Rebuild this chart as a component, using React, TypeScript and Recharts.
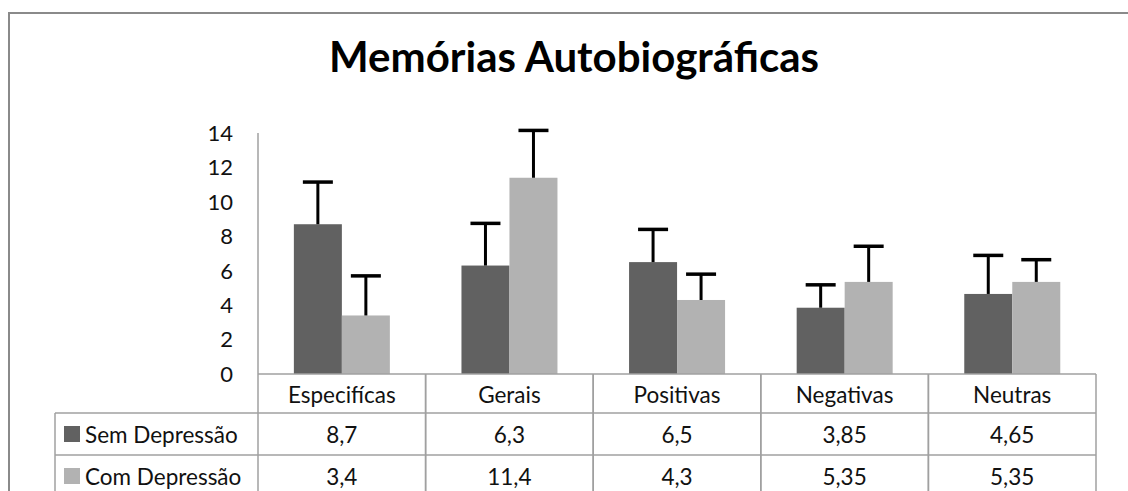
import React from 'react';
import { BarChart, Bar, XAxis, YAxis } from 'recharts';

const categories = ['Especifícas', 'Gerais', 'Positivas', 'Negativas', 'Neutras'];
const semDepressao = [8.7, 6.3, 6.5, 3.85, 4.65];
const comDepressao = [3.4, 11.4, 4.3, 5.35, 5.35];
const semDepressaoErr = [2.45, 2.45, 1.9, 1.33, 2.24];
const comDepressaoErr = [2.3, 2.75, 1.5, 2.07, 1.29];
const yTicks = [0, 2, 4, 6, 8, 10, 12, 14];
const seriesNames = ['Sem Depressão', 'Com Depressão'];
const chartTitle = 'Memórias Autobiográficas';

const data = categories.map((c, i) => ({
  category: c,
  sem: semDepressao[i],
  com: comDepressao[i],
  semErr: semDepressaoErr[i],
  comErr: comDepressaoErr[i],
}));

const W = 1128;
const H = 491;
const M = { top: 133, right: 32, left: 0, bottom: 0 };
const Y_W = 258;
const X_H = 117;
const BAND = (W - Y_W - M.right - M.left) / categories.length;
const DARK = '#616161';
const LIGHT = '#b2b2b2';
const GRID = '#a0a0a0';
const FONT = 'Lato, "Open Sans", sans-serif';
const LEGEND_LEFT = 55;
const ROW1 = 39;
const ROW2 = 81;

const fmt = (v: number) => String(v).replace('.', ',');

const makeShape = (valKey: string, errKey: string) => (props: any) => {
  const { x, y, width, height, fill, payload } = props;
  const v = payload[valKey];
  const err = payload[errKey];
  const errPx = v ? (height / v) * err : 0;
  const cx = x + width / 2;
  return (
    <g>
      <rect x={x} y={y} width={width} height={height} fill={fill} />
      <line x1={cx} x2={cx} y1={y} y2={y - errPx} stroke="#000" strokeWidth={3} />
      <line x1={cx - 15} x2={cx + 15} y1={y - errPx} y2={y - errPx} stroke="#000" strokeWidth={3.5} />
    </g>
  );
};

const TableTick = (props: any) => {
  const { x, y, payload, index } = props;
  const hw = BAND / 2;
  const i = categories.indexOf(payload.value);
  const left = x - hw;
  const right = x + hw;
  const bottom = y + 130;
  return (
    <g fontFamily={FONT} fontSize={22.5} fill="#111">
      <line x1={left} x2={left} y1={y} y2={bottom} stroke={GRID} strokeWidth={1.5} />
      <line x1={right} x2={right} y1={y} y2={bottom} stroke={GRID} strokeWidth={1.5} />
      <line x1={left} x2={right} y1={y + ROW1} y2={y + ROW1} stroke={GRID} strokeWidth={1.5} />
      <line x1={left} x2={right} y1={y + ROW2} y2={y + ROW2} stroke={GRID} strokeWidth={1.5} />
      <text x={x} y={y + 20} textAnchor="middle" dominantBaseline="central">{payload.value}</text>
      <text x={x} y={y + 60} textAnchor="middle" dominantBaseline="central">{fmt(semDepressao[i])}</text>
      <text x={x} y={y + 102} textAnchor="middle" dominantBaseline="central">{fmt(comDepressao[i])}</text>
      {index === 0 && (
        <g>
          <line x1={LEGEND_LEFT} x2={left} y1={y + ROW1} y2={y + ROW1} stroke={GRID} strokeWidth={1.5} />
          <line x1={LEGEND_LEFT} x2={left} y1={y + ROW2} y2={y + ROW2} stroke={GRID} strokeWidth={1.5} />
          <line x1={LEGEND_LEFT} x2={LEGEND_LEFT} y1={y + ROW1} y2={bottom} stroke={GRID} strokeWidth={1.5} />
          <rect x={LEGEND_LEFT + 9} y={y + 52} width={16} height={16} fill={DARK} />
          <text x={LEGEND_LEFT + 30} y={y + 60} dominantBaseline="central">{seriesNames[0]}</text>
          <rect x={LEGEND_LEFT + 9} y={y + 94} width={16} height={16} fill={LIGHT} />
          <text x={LEGEND_LEFT + 30} y={y + 102} dominantBaseline="central">{seriesNames[1]}</text>
        </g>
      )}
    </g>
  );
};

export default function App() {
  return (
    <div style={{ position: 'fixed', left: 0, top: 0, width: W, height: H, overflow: 'hidden', background: '#fff' }}>
      <div
        style={{
          position: 'absolute',
          left: 8,
          top: 12,
          width: 1300,
          height: 700,
          borderLeft: '2px solid #8a8a8a',
          borderTop: '2px solid #8a8a8a',
        }}
      />
      <div
        style={{
          position: 'absolute',
          left: 0,
          top: 32,
          width: 1148,
          textAlign: 'center',
          fontFamily: FONT,
          fontWeight: 700,
          fontSize: 42,
          lineHeight: '48px',
          color: '#000',
        }}
      >
        {chartTitle}
      </div>
      <div style={{ position: 'absolute', left: 0, top: 0 }}>
        <BarChart width={W} height={H} data={data} margin={M} barCategoryGap="21.4%" barGap={0}>
          <XAxis
            dataKey="category"
            height={X_H}
            axisLine={{ stroke: GRID, strokeWidth: 1.5 }}
            tickLine={false}
            tickSize={0}
            tickMargin={0}
            interval={0}
            tick={<TableTick />}
          />
          <YAxis
            width={Y_W}
            domain={[0, 14]}
            ticks={yTicks}
            axisLine={{ stroke: GRID, strokeWidth: 1.5 }}
            tickLine={false}
            tickSize={0}
            tickMargin={25}
            tick={{ fontFamily: FONT, fontSize: 22, fill: '#111' }}
          />
          <Bar dataKey="sem" name={seriesNames[0]} fill={DARK} isAnimationActive={false} shape={makeShape('sem', 'semErr')} />
          <Bar dataKey="com" name={seriesNames[1]} fill={LIGHT} isAnimationActive={false} shape={makeShape('com', 'comErr')} />
        </BarChart>
      </div>
    </div>
  );
}
